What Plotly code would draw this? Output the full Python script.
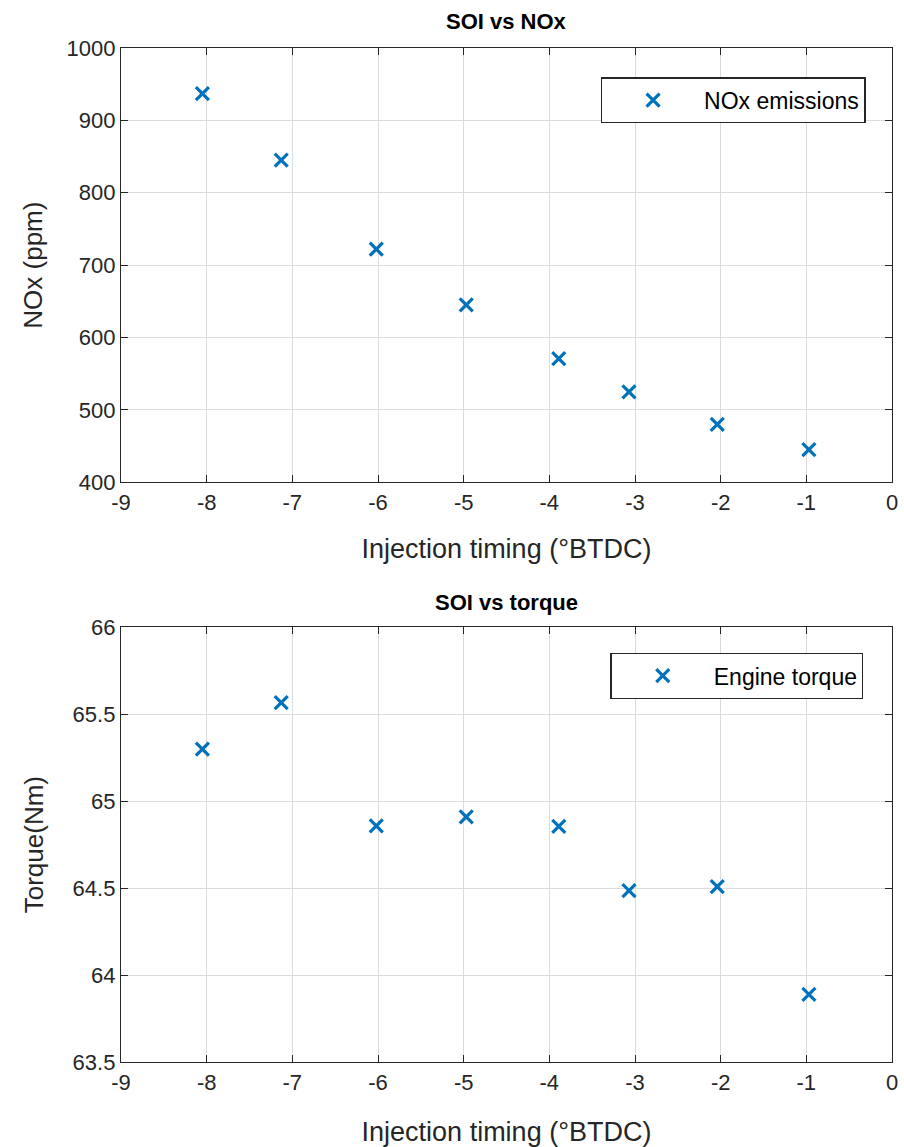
import plotly.graph_objects as go

# Data
soi = [-8.05, -7.13, -6.02, -4.97, -3.89, -3.07, -2.04, -0.97]
nox_ppm = [937, 845, 722, 645, 571, 525, 480, 445]
torque_nm = [65.30, 65.567, 64.858, 64.91, 64.855, 64.486, 64.509, 63.889]

x_ticks = [-9, -8, -7, -6, -5, -4, -3, -2, -1, 0]
nox_ticks = [400, 500, 600, 700, 800, 900, 1000]
torque_ticks = [63.5, 64, 64.5, 65, 65.5, 66]
torque_labels = ["63.5", "64", "64.5", "65", "65.5", "66"]

BLUE = "#0072BD"
AX = "#262626"
GRID = "#dcdcdc"
FONT = "Liberation Sans, Arial, Helvetica, sans-serif"

marker = dict(symbol="x-thin", size=13, line=dict(width=3.2, color=BLUE), color=BLUE)

fig = go.Figure()
fig.add_trace(go.Scatter(x=soi, y=nox_ppm, mode="markers", name="NOx emissions",
                         marker=marker, xaxis="x", yaxis="y", legend="legend", showlegend=True))
fig.add_trace(go.Scatter(x=soi, y=torque_nm, mode="markers", name="Engine torque",
                         marker=marker, xaxis="x2", yaxis="y2", legend="legend2", showlegend=True))

common_x = dict(
    range=[-9, 0], tickvals=x_ticks, ticktext=[str(v) for v in x_ticks],
    showgrid=True, gridcolor=GRID, gridwidth=1,
    showline=True, linecolor=AX, linewidth=1.3, mirror="ticks",
    ticks="inside", ticklen=7, tickcolor=AX, tickwidth=1,
    zeroline=False, automargin=False, tickfont=dict(size=22, color=AX, family=FONT),
)
common_y = dict(
    showgrid=True, gridcolor=GRID, gridwidth=1,
    showline=True, linecolor=AX, linewidth=1.3, mirror="ticks",
    ticks="inside", ticklen=7, tickcolor=AX, tickwidth=1,
    zeroline=False, automargin=False, tickfont=dict(size=22, color=AX, family=FONT),
)

legend_common = dict(xanchor="right", yanchor="top", bordercolor=AX, borderwidth=1.3,
                     bgcolor="white", font=dict(size=23, color="#000000", family=FONT),
                     itemwidth=92)

xtitle_font = dict(size=27, color=AX, family=FONT)

fig.update_layout(
    width=904, height=1147, showlegend=True,
    margin=dict(l=121, r=12, t=48, b=85, autoexpand=False),
    paper_bgcolor="white", plot_bgcolor="white",
    font=dict(family=FONT, color=AX),
    xaxis=dict(domain=[0, 1], anchor="y",
               title=dict(text="Injection timing (°BTDC)", font=xtitle_font, standoff=25),
               **common_x),
    yaxis=dict(domain=[0.5717, 1], anchor="x", range=[400, 1000], tickvals=nox_ticks,
               ticktext=[str(v) for v in nox_ticks],
               title=dict(text="NOx (ppm)", font=dict(size=26, color=AX, family=FONT), standoff=16),
               **common_y),
    xaxis2=dict(domain=[0, 1], anchor="y2",
                title=dict(text="Injection timing (°BTDC)", font=xtitle_font, standoff=29),
                **common_x),
    yaxis2=dict(domain=[0, 0.4287], anchor="x2", range=[63.5, 66], tickvals=torque_ticks,
                ticktext=torque_labels,
                title=dict(text="Torque(Nm)", font=dict(size=26, color=AX, family=FONT), standoff=21),
                **common_y),
    legend=dict(x=0.966, y=0.971, **legend_common),
    legend2=dict(x=0.963, y=0.4034, **legend_common),
    annotations=[
        dict(text="<b>SOI vs NOx</b>", x=0.5, y=1.0, xref="paper", yref="paper",
             xanchor="center", yanchor="bottom", yshift=12, showarrow=False,
             font=dict(size=22, color="#000000", family=FONT)),
        dict(text="<b>SOI vs torque</b>", x=0.5, y=0.4287, xref="paper", yref="paper",
             xanchor="center", yanchor="bottom", yshift=10, showarrow=False,
             font=dict(size=22, color="#000000", family=FONT)),
    ],
)

fig.write_html("out.html")
